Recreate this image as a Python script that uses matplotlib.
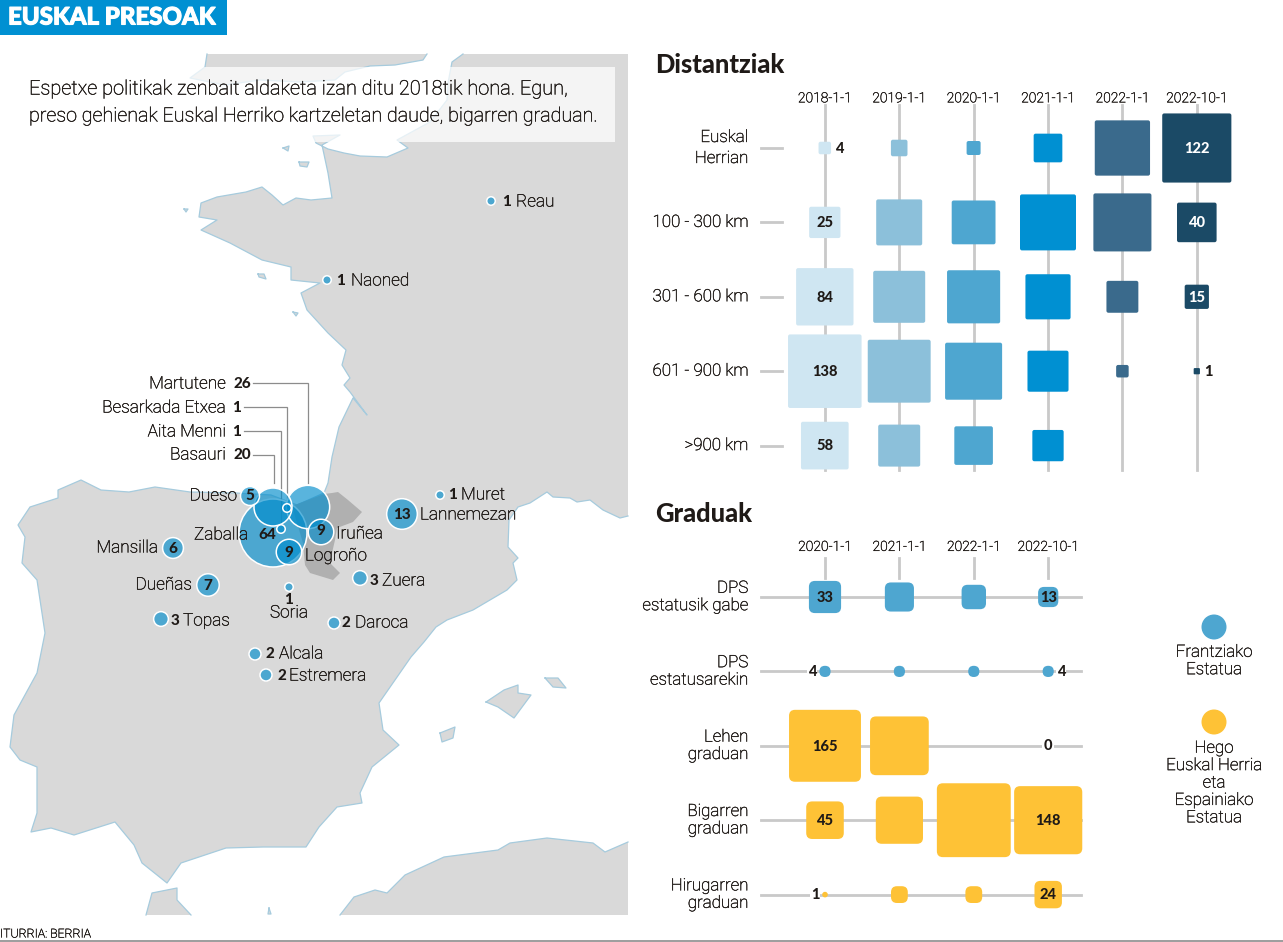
import numpy as np
import matplotlib
matplotlib.use('Agg')
import matplotlib.pyplot as plt
import matplotlib.patheffects as pe
from matplotlib.patches import Circle, FancyBboxPatch, Polygon, Rectangle

W, H = 1283, 942
FONT = ['Roboto', 'DejaVu Sans']
BOLD = ['Lato', 'DejaVu Sans']
DARK = '#1f1a17'
GRID = '#c9c9c9'
LAND = '#d9d9d9'
COAST = '#a6cbdd'
BLUE = '#4ea6d0'
YELLOW = '#fec236'
# roboto light prints too pale on its own
INK = [pe.withStroke(linewidth=0.3, foreground=DARK)]

# top chart
dist_dates = ['2018-1-1', '2019-1-1', '2020-1-1', '2021-1-1', '2022-1-1', '2022-10-1']
dist_rows = ['Euskal\nHerrian', '100 - 300 km', '301 - 600 km', '601 - 900 km', '>900 km']
dist_values = [
    [4, 7, 5, 21, 78, 122],
    [25, 54, 49, 80, 86, 40],
    [84, 69, 72, 52, 26, 15],
    [138, 101, 83, 43, 4, 1],
    [58, 45, 38, 25, 0, 0],
]
dist_colors = ['#cfe6f2', '#8cc0da', '#4ea6d0', '#0090d2', '#3a6a8c', '#1b4a66']

# bottom chart
grade_dates = ['2020-1-1', '2021-1-1', '2022-1-1', '2022-10-1']
grade_rows = ['DPS\nestatusik gabe', 'DPS\nestatusarekin', 'Lehen\ngraduan',
              'Bigarren\ngraduan', 'Hirugarren\ngraduan']
grade_values = [
    [33, 27, 19, 13],
    [4, 4, 4, 4],
    [165, 110, 0, 0],
    [45, 71, 174, 148],
    [1, 9, 9, 24],
]
grade_colors = [BLUE, BLUE, YELLOW, YELLOW, YELLOW]

# prisons on the map
prison_names = ['Zaballa', 'Martutene', 'Basauri', 'Besarkada Etxea', 'Aita Menni', 'Dueso',
                'Iruñea', 'Logroño', 'Mansilla', 'Dueñas', 'Soria', 'Topas', 'Daroca',
                'Alcala', 'Estremera', 'Zuera', 'Lannemezan', 'Muret', 'Reau', 'Naoned']
prison_counts = [64, 26, 20, 1, 1, 5, 9, 9, 6, 7, 1, 3, 2, 2, 2, 3, 13, 1, 1, 1]
prison_x = [273, 308, 273, 287, 281, 250, 321, 289, 173, 208, 289, 161, 334, 255, 266, 360, 402, 440, 491, 327]
prison_y = [533, 507, 507, 508, 529, 496, 532, 552, 548, 585, 587, 619, 623, 654, 675, 578, 514, 495, 201, 280]
# name x, name anchor, name y, count x, count anchor, count y
prison_labels = [
    (248, 'right', 535, 267, 'center', 535),
    (226, 'right', 384, 233, 'left', 384),
    (226, 'right', 455, 233, 'left', 455),
    (226, 'right', 408, 232, 'left', 408),
    (226, 'right', 432, 232, 'left', 432),
    (237, 'right', 496, 250, 'center', 496),
    (336, 'left', 534, 321, 'center', 531),
    (305, 'left', 556, 289, 'center', 553),
    (158, 'right', 548, 173, 'center', 549),
    (192, 'right', 585, 208, 'center', 586),
    (289, 'center', 613, 289, 'center', 600),
    (183, 'left', 621, 171, 'left', 621),
    (355, 'left', 623, 342, 'left', 623),
    (279, 'left', 654, 265, 'left', 654),
    (289, 'left', 676, 277, 'left', 676),
    (382, 'left', 581, 370, 'left', 581),
    (420, 'left', 515, 402, 'center', 515),
    (461, 'left', 495, 448, 'left', 495),
    (516, 'left', 202, 502, 'left', 202),
    (351, 'left', 281, 336, 'left', 281),
]
leader_lines = [
    ([253, 308, 308], [383, 383, 483]),
    ([244, 287, 287], [407, 407, 507]),
    ([244, 281, 281], [431, 431, 525]),
    ([253, 274, 274], [455, 455, 483]),
]

# traced outlines, picture pixels
mainland = [(463, 54), (452, 62), (448, 83), (447, 100), (430, 122), (397, 140), (408, 148), (387, 157),
            (360, 156), (344, 153), (328, 149), (316, 143), (313, 136), (340, 135), (322, 145), (328, 173),
            (332, 198), (311, 200), (296, 198), (283, 205), (272, 195), (262, 187), (246, 192), (217, 197),
            (201, 203), (199, 217), (217, 220), (201, 230), (230, 243), (262, 260), (291, 267), (291, 280),
            (320, 283), (301, 293), (307, 310), (328, 333), (346, 350), (342, 365), (350, 378), (344, 385),
            (350, 392), (367, 415), (353, 398), (339, 427), (332, 457), (328, 483), (324, 493), (297, 505),
            (271, 495), (236, 493), (190, 492), (155, 487), (129, 492), (101, 490), (81, 480), (58, 490),
            (58, 498), (30, 507), (18, 525), (25, 537), (22, 563), (37, 580), (45, 633), (37, 673), (14, 715),
            (10, 747), (20, 760), (37, 767), (37, 813), (31, 832), (51, 828), (74, 835), (115, 822), (134, 845),
            (142, 863), (167, 883), (181, 863), (226, 848), (263, 847), (306, 847), (319, 827), (337, 807),
            (362, 803), (360, 793), (372, 767), (399, 745), (383, 730), (379, 703), (411, 657), (424, 642),
            (436, 627), (447, 620), (473, 610), (507, 590), (517, 580), (513, 563), (518, 558), (508, 547),
            (509, 520), (518, 507), (530, 503), (547, 492), (553, 497), (570, 498), (577, 502), (590, 500),
            (603, 510), (620, 518), (628, 516), (628, 54)]
england = [(427, 54), (423, 60), (395, 65), (370, 66), (345, 72), (335, 80), (300, 82),
           (260, 80), (225, 85), (190, 78), (205, 67), (207, 54)]
africa = [(340, 915), (354, 897), (375, 890), (387, 893), (405, 875), (444, 857), (498, 850), (510, 843),
          (547, 838), (593, 843), (605, 852), (628, 842), (628, 915)]
ceuta = [(146, 915), (152, 893), (177, 888), (177, 900), (191, 915)]
mallorca = [(486, 702), (504, 690), (518, 685), (518, 693), (531, 695), (514, 718), (498, 707), (486, 702)]
menorca = [(545, 678), (558, 678), (566, 688), (553, 687), (545, 678)]
ibiza = [(440, 733), (455, 727), (453, 738), (442, 742), (440, 733)]
small_isles = [[(283, 148), (289, 146), (288, 151), (283, 148)],
               [(299, 162), (309, 162), (307, 167), (300, 166), (299, 162)],
               [(184, 209), (188, 209), (186, 212), (184, 209)],
               [(258, 274), (264, 274), (266, 279), (259, 277), (258, 274)],
               [(293, 312), (298, 313), (296, 316), (293, 312)],
               [(269, 908), (271, 914), (268, 914), (269, 908)]]
basque = [(292, 506), (324, 494), (332, 493), (338, 492), (348, 500), (362, 512), (353, 522), (337, 528),
          (335, 540), (332, 553), (330, 563), (340, 573), (333, 580), (310, 573), (305, 565), (303, 543)]


def px_axes(fig, x0, y0, x1, y1):
    return fig.add_axes([x0 / W, 1 - y1 / H, (x1 - x0) / W, (y1 - y0) / H])


def rounded_square(ax, x, y, side, radius, color):
    ax.add_patch(FancyBboxPatch((x - side / 2, y - side / 2), side, side,
                                boxstyle='round,pad=0,rounding_size=%f' % radius,
                                fc=color, ec='none', zorder=3, clip_on=False))


def draw_land(ax, outline, coast_points):
    ax.add_patch(Polygon(outline, fc=LAND, ec='none', zorder=1))
    xs, ys = zip(*outline[:coast_points])
    ax.plot(xs, ys, color=COAST, lw=0.9, zorder=1.2)


def setup_panel(ax, dates, rows, unit, x0, y0, ox, oy, x1, y1, line_gap, date_pad):
    ax.set_xlim((x0 - ox) / unit, (x1 - ox) / unit)
    ax.set_ylim((y1 - oy) / unit, (y0 - oy) / unit)
    ax.xaxis.tick_top()
    ax.set_xticks(range(len(dates)), dates)
    ax.set_yticks(range(len(rows)), rows, linespacing=line_gap)
    ax.tick_params(length=0, colors=DARK)
    ax.tick_params(axis='x', labelsize=10, pad=date_pad)
    ax.tick_params(axis='y', labelsize=12.2, pad=3.5)
    for lab in ax.get_xticklabels() + ax.get_yticklabels():
        lab.set_family(FONT)
        lab.set_fontweight('light')
        lab.set_path_effects(INK)
    for lab in ax.get_yticklabels():
        lab.set_verticalalignment('center')
    for s in ax.spines.values():
        s.set_visible(False)
    ax.patch.set_alpha(0)


fig = plt.figure(figsize=(W / 100, H / 100), dpi=100)
plt.rcParams['font.family'] = FONT

bg = fig.add_axes([0, 0, 1, 1])
bg.set_xlim(0, W)
bg.set_ylim(H, 0)
bg.axis('off')

# header
bg.add_patch(Rectangle((0, 0), 227, 35, fc='#0090d2', ec='none'))
bg.text(8, 17, 'EUSKAL PRESOAK', color='white', fontsize=17.3, fontweight='black', va='center', family=BOLD,
        path_effects=[pe.withStroke(linewidth=0.8, foreground='white')])

# map
draw_land(bg, mainland, -1)
draw_land(bg, england, len(england))
draw_land(bg, africa, -1)
draw_land(bg, ceuta, len(ceuta))
for isle in [mallorca, menorca, ibiza] + small_isles:
    draw_land(bg, isle, len(isle))
bg.add_patch(Polygon(basque, fc='#b0b0b0', ec='none', zorder=1.5))

# intro box
bg.add_patch(Rectangle((15, 67), 600, 75, fc='white', ec='none', alpha=0.72, zorder=2))
bg.text(29, 89, 'Espetxe politikak zenbait aldaketa izan ditu 2018tik hona. Egun,',
        fontsize=14.4, fontweight='light', color=DARK, va='center', zorder=6, path_effects=INK)
bg.text(29, 116, 'preso gehienak Euskal Herriko kartzeletan daude, bigarren graduan.',
        fontsize=14.2, fontweight='light', color=DARK, va='center', zorder=6, path_effects=INK)

for xs, ys in leader_lines:
    bg.plot(xs, ys, color='#8c8c8c', lw=0.9, zorder=3, solid_joinstyle='miter')

for name, count, x, y, lab in zip(prison_names, prison_counts, prison_x, prison_y, prison_labels):
    d = 8.5 * np.sqrt(count)
    bg.add_patch(Circle((x, y), d / 2, fc=(0, 0.55, 0.8, 0.65), ec='white', lw=1.1, zorder=4))
    nx, nha, ny, cx, cha, cy = lab
    bg.text(nx, ny, name, ha=nha, va='center', fontsize=12.4, fontweight='light', color=DARK, zorder=6,
            path_effects=INK)
    bg.text(cx, cy, str(count), ha=cha, va='center', fontsize=11, fontweight='black', family=BOLD,
            color=DARK, zorder=6)

# source
bg.text(0, 934, 'ITURRIA: BERRIA', fontsize=8.8, fontweight='light', color=DARK, va='center', path_effects=INK)
bg.plot([0, W], [941, 941], color='#8c8c8c', lw=1.2)

# section titles
bg.text(655, 65, 'Distantziak', fontsize=18.4, fontweight='black', family=BOLD, color=DARK, va='center')
bg.text(655, 514, 'Graduak', fontsize=18.4, fontweight='black', family=BOLD, color=DARK, va='center')

# legend
bg.add_patch(Circle((1214, 627), 12.5, fc=BLUE, ec='none'))
bg.text(1214, 661, 'Frantziako\nEstatua', ha='center', va='center', fontsize=12.2, fontweight='light',
        color=DARK, linespacing=1.2, path_effects=INK)
bg.add_patch(Circle((1214, 722), 12.5, fc=YELLOW, ec='none'))
bg.text(1214, 783, 'Hego\nEuskal Herria\neta\nEspainiako\nEstatua', ha='center', va='center',
        fontsize=12.2, fontweight='light', color=DARK, linespacing=1.2, path_effects=INK)

# distances panel
ax = px_axes(fig, 753, 106, 1283, 475)
unit = 74.4
setup_panel(ax, dist_dates, dist_rows, unit, 753, 106, 824.8, 148, 1283, 475, 1.5, 0.5)
for c in range(len(dist_dates)):
    ax.plot([c, c], [-0.58, 4.33], color=GRID, lw=2, zorder=1, clip_on=False)
for r in range(len(dist_rows)):
    ax.plot([-0.857, -0.575], [r, r], color=GRID, lw=2, zorder=1, clip_on=False)
    for c in range(len(dist_dates)):
        v = dist_values[r][c]
        if v == 0:
            continue
        side = 6.26 * np.sqrt(v) / unit
        rounded_square(ax, c, r, side, min(2 / unit, side / 6), dist_colors[c])
        if c in (0, len(dist_dates) - 1):
            if v <= 4:
                ax.text(c + side / 2 + 0.06, r + 0.01, str(v), fontsize=10.5, fontweight='black', family=BOLD,
                        color=DARK, va='center', zorder=5)
            else:
                ax.text(c, r + 0.01, str(v), fontsize=10.5, fontweight='black', family=BOLD, ha='center',
                        va='center', color='white' if c == len(dist_dates) - 1 else DARK, zorder=5)

# grades panel
ax2 = px_axes(fig, 753, 558, 1100, 930)
setup_panel(ax2, grade_dates, grade_rows, unit, 753, 558, 825, 597, 1100, 930, 1.2, 3)
for c in range(len(grade_dates)):
    ax2.plot([c, c], [-0.52, -0.26], color=GRID, lw=2, zorder=1, clip_on=False)
for r in range(len(grade_rows)):
    ax2.plot([-0.857, 3.44], [r, r], color=GRID, lw=2, zorder=1, clip_on=False)
    for c in range(len(grade_dates)):
        v = grade_values[r][c]
        side = 5.6 * np.sqrt(v) / unit
        if v > 0:
            rounded_square(ax2, c, r, side, min(6 / unit, side / 2), grade_colors[r])
        if c in (0, len(grade_dates) - 1):
            if v == 0:
                ax2.text(c, r, '0', fontsize=10.5, fontweight='black', family=BOLD, ha='center', va='center',
                         color=DARK, zorder=5, bbox=dict(fc='white', ec='none', pad=1))
            elif v <= 4:
                off = side / 2 + 0.04
                ax2.text(c - off if c == 0 else c + off, r + 0.01, str(v), fontsize=10.5, fontweight='black',
                         family=BOLD, ha='right' if c == 0 else 'left', va='center', color=DARK, zorder=5,
                         bbox=dict(fc='white', ec='none', pad=0.5))
            else:
                ax2.text(c, r + 0.01, str(v), fontsize=10.5, fontweight='black', family=BOLD, ha='center',
                         va='center', color=DARK, zorder=5)

fig.savefig('out.png', dpi=100)
